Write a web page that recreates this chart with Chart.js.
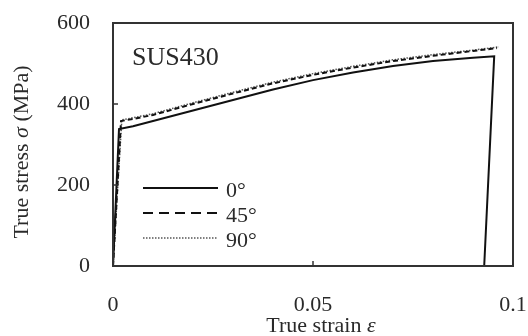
<!DOCTYPE html>
<html>
<head>
<meta charset="utf-8">
<script src="https://cdn.jsdelivr.net/npm/chart.js@4/dist/chart.umd.min.js"></script>
<style>
  html, body { margin: 0; padding: 0; background: #fff; }
  #wrap { width: 528px; height: 336px; }
</style>
</head>
<body>
<div id="wrap"><canvas id="c" width="528" height="336"></canvas></div>
<script>
// ---- data ----
const seriesLabels = ['0°', '45°', '90°'];
const strain0  = [0, 0.0015, 0.005, 0.01, 0.02, 0.03, 0.04, 0.05, 0.06, 0.07, 0.08, 0.09, 0.0953, 0.0928];
const stress0  = [0, 338, 345, 358, 384, 410, 436, 459, 478, 494, 506, 514, 518, 0];
const strain45 = [0, 0.002, 0.005, 0.01, 0.02, 0.03, 0.04, 0.05, 0.06, 0.07, 0.08, 0.09, 0.096];
const stress45 = [0, 358, 363, 373, 400, 426, 451, 472, 490, 506, 519, 531, 538];
const strain90 = [0, 0.0022, 0.005, 0.01, 0.02, 0.03, 0.04, 0.05, 0.06, 0.07, 0.08, 0.09, 0.0965];
const stress90 = [0, 361, 366, 376, 403, 429, 454, 475, 493, 509, 522, 533, 541];
const xTicks = [0, 0.05, 0.1];
const yTicks = [0, 200, 400, 600];
const materialLabel = 'SUS430';

const pts = (xs, ys) => xs.map((x, i) => ({ x: x, y: ys[i] }));
const SERIF = '"Liberation Serif", "Times New Roman", serif';
const TXT = '#2a2a2a';

const legendDash = [[], [10, 6], [1.5, 1.5]];

const decor = {
  id: 'decor',
  afterDatasetsDraw(chart) {
    const ctx = chart.ctx;
    const a = chart.chartArea;
    const xs = chart.scales.x, ys = chart.scales.y;
    ctx.save();
    // frame
    ctx.strokeStyle = '#333';
    ctx.lineWidth = 2;
    ctx.setLineDash([]);
    ctx.strokeRect(a.left, a.top, a.right - a.left, a.bottom - a.top);
    // inward tick marks
    ctx.lineWidth = 1.5;
    yTicks.forEach(v => {
      const y = ys.getPixelForValue(v);
      ctx.beginPath(); ctx.moveTo(a.left, y); ctx.lineTo(a.left + 5, y); ctx.stroke();
    });
    xTicks.forEach(v => {
      const x = xs.getPixelForValue(v);
      ctx.beginPath(); ctx.moveTo(x, a.bottom); ctx.lineTo(x, a.bottom - 5); ctx.stroke();
    });
    // material label
    ctx.fillStyle = TXT;
    ctx.font = '26px ' + SERIF;
    ctx.textAlign = 'left';
    ctx.textBaseline = 'alphabetic';
    ctx.fillText(materialLabel, a.left + 19, a.top + 42);
    // legend
    const ds = chart.data.datasets;
    const rowY = [188, 213, 238];
    ds.forEach((d, i) => {
      const y = rowY[i];
      ctx.strokeStyle = d.borderColor;
      ctx.lineWidth = d.borderWidth;
      ctx.setLineDash(legendDash[i]);
      ctx.beginPath(); ctx.moveTo(a.left + 30, y); ctx.lineTo(a.left + 105, y); ctx.stroke();
      ctx.setLineDash([]);
      ctx.font = '22px ' + SERIF;
      ctx.textBaseline = 'middle';
      ctx.fillStyle = TXT;
      ctx.fillText(d.label, a.left + 113, y + 3);
    });
    // axis titles
    const drawMixed = (parts, cx, cy) => {
      let w = 0;
      parts.forEach(p => { ctx.font = p[1] + '22px ' + SERIF; w += ctx.measureText(p[0]).width; });
      let x = cx - w / 2;
      ctx.textAlign = 'left';
      ctx.textBaseline = 'middle';
      parts.forEach(p => {
        ctx.font = p[1] + '22px ' + SERIF;
        ctx.fillText(p[0], x, cy);
        x += ctx.measureText(p[0]).width;
      });
    };
    ctx.fillStyle = TXT;
    drawMixed([['True strain ', ''], ['ε', 'italic ']], 321, 326);
    ctx.save();
    ctx.translate(22, 152);
    ctx.rotate(-Math.PI / 2);
    drawMixed([['True stress ', ''], ['σ', 'italic '], [' (MPa)', '']], 0, 0);
    ctx.restore();
    ctx.restore();
  }
};

new Chart(document.getElementById('c'), {
  type: 'line',
  data: {
    datasets: [
      { label: seriesLabels[0], data: pts(strain0, stress0), borderColor: '#111', borderWidth: 2, borderDash: [], pointRadius: 0, tension: 0, fill: false },
      { label: seriesLabels[1], data: pts(strain45, stress45), borderColor: '#111', borderWidth: 2, borderDash: [5, 3], pointRadius: 0, tension: 0, fill: false },
      { label: seriesLabels[2], data: pts(strain90, stress90), borderColor: '#555', borderWidth: 1.5, borderDash: [1.5, 1.5], pointRadius: 0, tension: 0, fill: false }
    ]
  },
  options: {
    responsive: false,
    animation: false,
    devicePixelRatio: 1,
    layout: { padding: { top: 23, right: 15, left: 0, bottom: 0 } },
    plugins: { legend: { display: false }, tooltip: { enabled: false } },
    scales: {
      x: {
        type: 'linear', min: 0, max: 0.1,
        afterBuildTicks: s => { s.ticks = xTicks.map(v => ({ value: v })); },
        afterFit: s => { s.height = 70; s.paddingLeft = 0; s.paddingRight = 0; },
        grid: { display: false, drawTicks: false },
        border: { display: false },
        ticks: { color: TXT, font: { family: SERIF, size: 22 }, padding: 26, maxRotation: 0, autoSkip: false,
                 callback: v => String(v) }
      },
      y: {
        type: 'linear', min: 0, max: 600,
        afterBuildTicks: s => { s.ticks = yTicks.map(v => ({ value: v })); },
        afterFit: s => { s.width = 113; s.paddingTop = 0; s.paddingBottom = 0; },
        grid: { display: false, drawTicks: false },
        border: { display: false },
        ticks: { color: TXT, font: { family: SERIF, size: 22 }, padding: 23, callback: v => String(v) }
      }
    }
  },
  plugins: [decor]
});
</script>
</body>
</html>
